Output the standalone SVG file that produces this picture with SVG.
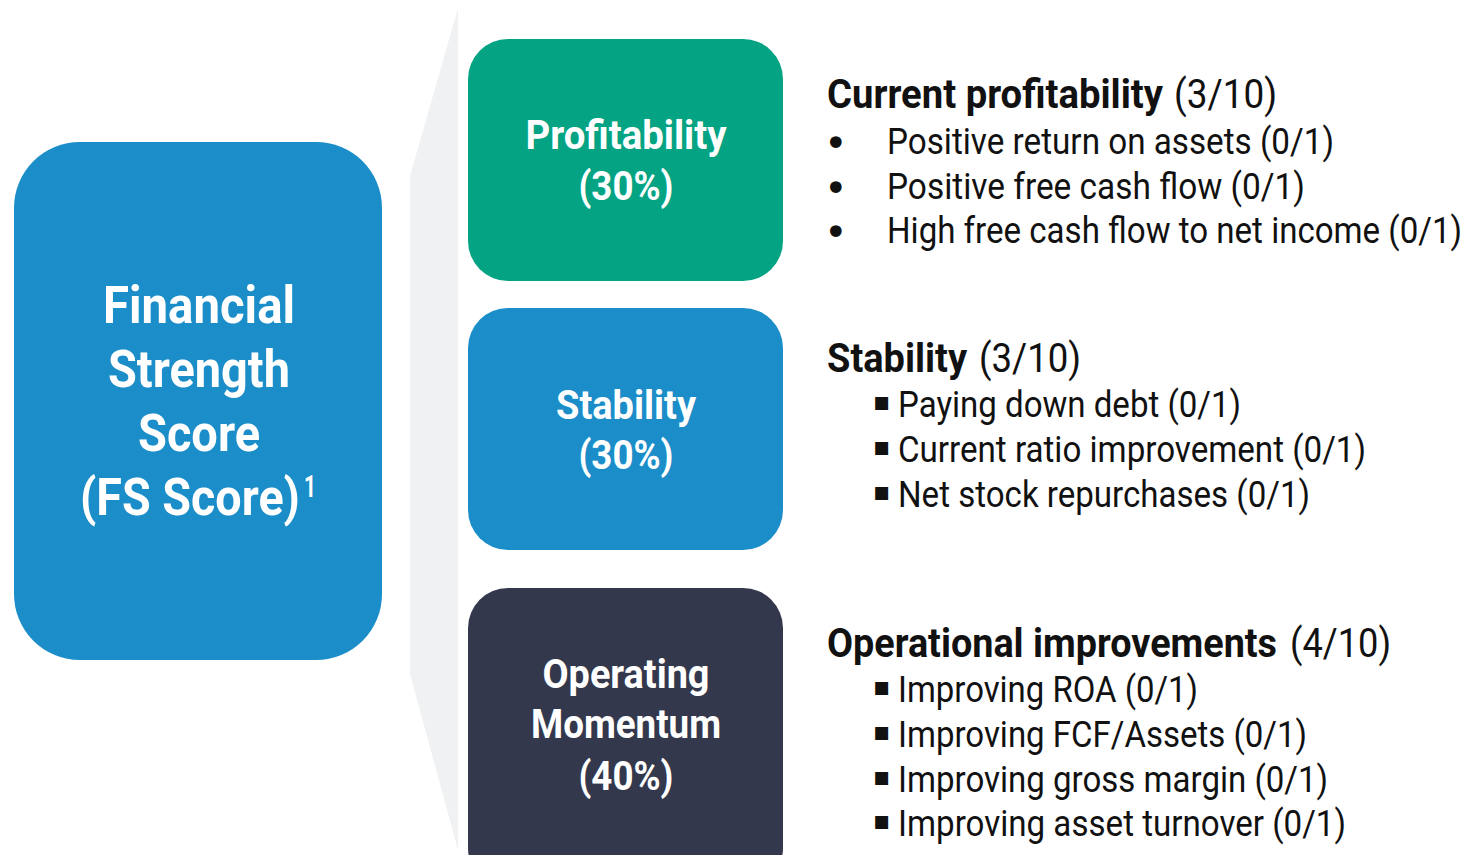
<svg xmlns="http://www.w3.org/2000/svg" width="1470" height="855" viewBox="0 0 1470 855">
<style>
.w{fill:#ffffff;font-family:Roboto,"Liberation Sans",sans-serif;font-weight:700;text-anchor:middle}
.b{fill:#111111;font-family:Roboto,"Liberation Sans",sans-serif;font-weight:700;font-size:40px}
.n{fill:#111111;font-family:Roboto,"Liberation Sans",sans-serif;font-weight:400;font-size:40px}
.i{fill:#111111;font-family:Roboto,"Liberation Sans",sans-serif;font-weight:400;font-size:36px}
.dot{fill:#111111;font-family:"DejaVu Sans",sans-serif;font-size:40px}
.sq{fill:#111111;font-family:"DejaVu Sans",sans-serif;font-size:26px}
</style>
<rect width="1470" height="855" fill="#ffffff"/>
<g id="connectors">
<polygon points="458,8 410,176 410,674 458,850" fill="#f0f1f3"/>
</g>
<g id="fs-score">
<rect x="14" y="142" width="368" height="518" rx="66" fill="#1b8dc8"/>
<text class="w" font-size="52"><tspan x="199" y="323" textLength="192" lengthAdjust="spacingAndGlyphs">Financial</tspan><tspan x="199" y="387" textLength="182" lengthAdjust="spacingAndGlyphs">Strength</tspan><tspan x="199" y="451" textLength="122" lengthAdjust="spacingAndGlyphs">Score</tspan></text>
<text class="w" font-size="52" x="190" y="515" textLength="220" lengthAdjust="spacingAndGlyphs">(FS Score)</text>
<text class="w" font-size="31" x="310" y="497" textLength="12" lengthAdjust="spacingAndGlyphs">1</text>
</g>
<g id="profitability">
<rect x="468" y="39" width="315" height="242" rx="40" fill="#04a383"/>
<text class="w" font-size="40" x="626" y="149" textLength="201" lengthAdjust="spacingAndGlyphs">Profitability</text>
<text class="w" font-size="40" x="626" y="200" textLength="95" lengthAdjust="spacingAndGlyphs">(30%)</text>
</g>
<g id="stability">
<rect x="468" y="308" width="315" height="242" rx="40" fill="#1b8dc8"/>
<text class="w" font-size="40" x="626" y="419" textLength="140" lengthAdjust="spacingAndGlyphs">Stability</text>
<text class="w" font-size="40" x="626" y="469" textLength="95" lengthAdjust="spacingAndGlyphs">(30%)</text>
</g>
<g id="operating-momentum">
<rect x="468" y="588" width="315" height="300" rx="40" fill="#33384d"/>
<text class="w" font-size="40" x="626" y="688" textLength="167" lengthAdjust="spacingAndGlyphs">Operating</text>
<text class="w" font-size="40" x="626" y="738" textLength="190" lengthAdjust="spacingAndGlyphs">Momentum</text>
<text class="w" font-size="40" x="626" y="790" textLength="95" lengthAdjust="spacingAndGlyphs">(40%)</text>
</g>
<g id="profitability-details">
<text class="b" x="827" y="108" textLength="336" lengthAdjust="spacingAndGlyphs">Current profitability</text>
<text class="n" x="1174" y="108" textLength="103" lengthAdjust="spacingAndGlyphs">(3/10)</text>
<text class="dot" x="824" y="157">•</text>
<text class="i" x="887" y="154" textLength="447" lengthAdjust="spacingAndGlyphs">Positive return on assets (0/1)</text>
<text class="dot" x="824" y="202">•</text>
<text class="i" x="887" y="199" textLength="418" lengthAdjust="spacingAndGlyphs">Positive free cash flow (0/1)</text>
<text class="dot" x="824" y="246">•</text>
<text class="i" x="887" y="243" textLength="575" lengthAdjust="spacingAndGlyphs">High free cash flow to net income (0/1)</text>
</g>
<g id="stability-details">
<text class="b" x="827" y="372" textLength="140" lengthAdjust="spacingAndGlyphs">Stability</text>
<text class="n" x="979" y="372" textLength="102" lengthAdjust="spacingAndGlyphs">(3/10)</text>
<text class="sq" x="873" y="410">▪</text>
<text class="i" x="898" y="417" textLength="343" lengthAdjust="spacingAndGlyphs">Paying down debt (0/1)</text>
<text class="sq" x="873" y="455">▪</text>
<text class="i" x="898" y="462" textLength="468" lengthAdjust="spacingAndGlyphs">Current ratio improvement (0/1)</text>
<text class="sq" x="873" y="500">▪</text>
<text class="i" x="898" y="507" textLength="412" lengthAdjust="spacingAndGlyphs">Net stock repurchases (0/1)</text>
</g>
<g id="operating-details">
<text class="b" x="827" y="657" textLength="450" lengthAdjust="spacingAndGlyphs">Operational improvements</text>
<text class="n" x="1290" y="657" textLength="101" lengthAdjust="spacingAndGlyphs">(4/10)</text>
<text class="sq" x="873" y="695">▪</text>
<text class="i" x="898" y="702" textLength="300" lengthAdjust="spacingAndGlyphs">Improving ROA (0/1)</text>
<text class="sq" x="873" y="740">▪</text>
<text class="i" x="898" y="747" textLength="409" lengthAdjust="spacingAndGlyphs">Improving FCF/Assets (0/1)</text>
<text class="sq" x="873" y="785">▪</text>
<text class="i" x="898" y="792" textLength="430" lengthAdjust="spacingAndGlyphs">Improving gross margin (0/1)</text>
<text class="sq" x="873" y="829">▪</text>
<text class="i" x="898" y="836" textLength="448" lengthAdjust="spacingAndGlyphs">Improving asset turnover (0/1)</text>
</g>
</svg>
